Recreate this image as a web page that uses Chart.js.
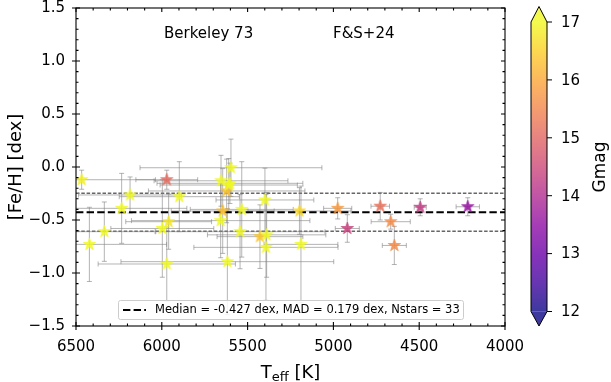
<!DOCTYPE html>
<html><head><meta charset="utf-8">
<script src="https://cdn.jsdelivr.net/npm/chart.js@4.4.1/dist/chart.umd.min.js"></script>
<style>html,body{margin:0;padding:0;background:#fff;}canvas{display:block;}</style>
</head><body>
<canvas id="c" width="611" height="382"></canvas>
<script>
// ---------- data ----------
const teff    = [6467, 5971, 6185, 6234, 6422, 6335, 5898, 5960, 5997, 5971, 5597, 5655, 5603, 5622, 5645, 5657, 5534, 5544, 5618, 5399, 5428, 5389, 5393, 5198, 5189, 4975, 4919, 4727, 4666, 4645, 4494, 4217, 5610];
const feh     = [-0.12, -0.12, -0.264, -0.39, -0.73, -0.61, -0.28, -0.516, -0.58, -0.915, -0.007, -0.13, -0.154, -0.226, -0.415, -0.506, -0.40, -0.61, -0.893, -0.311, -0.657, -0.64, -0.758, -0.415, -0.73, -0.39, -0.58, -0.37, -0.516, -0.74, -0.38, -0.375, -0.17];
const teffErr = [430, 180, 300, 380, 450, 300, 350, 250, 300, 400, 530, 390, 425, 456, 300, 520, 300, 495, 620, 285, 250, 345, 420, 300, 215, 82, 70, 54, 114, 70, 35, 68, 400];
const fehErr  = [0.09, 0.09, 0.17, 0.33, 0.35, 0.28, 0.33, 0.26, 0.46, 0.35, 0.27, 0.24, 0.19, 0.30, 0.40, 0.35, 0.45, 0.35, 0.50, 0.30, 0.30, 0.40, 0.50, 0.22, 0.55, 0.10, 0.13, 0.13, 0.07, 0.18, 0.08, 0.085, 0.25];
const gmag    = [16.9, 15.1, 17.2, 17.3, 17.1, 17.2, 17.3, 16.8, 17.2, 17.4, 17.3, 17.2, 17.1, 16.3, 16.3, 17.2, 17.0, 17.3, 17.4, 17.0, 16.4, 17.2, 17.3, 16.6, 17.3, 15.8, 14.4, 15.2, 15.6, 15.6, 14.3, 13.6, 17.2];
const xTicks = [6500, 6000, 5500, 5000, 4500, 4000];
const yTicks = [-1.5, -1.0, -0.5, 0.0, 0.5, 1.0, 1.5];
const cbarTicks = [12, 13, 14, 15, 16, 17];
const medianFeh = -0.427;
const madFeh = 0.179;
const nStars = 33;
const clusterName = 'Berkeley 73';
const sourceLabel = 'F&S+24';
const cbarLabel = 'Gmag';

// ---------- styling ----------
const FONT = 'DejaVu Sans';
const PLASMA = ['#0d0887','#41049d','#6a00a8','#8f0da4','#b12a90','#cc4778','#e16462','#f2844b','#fca636','#fcce25','#f0f921']
  .map(h => [parseInt(h.slice(1,3),16), parseInt(h.slice(3,5),16), parseInt(h.slice(5,7),16)]);
function plasma(t, a) {
  t = Math.max(0, Math.min(1, t));
  const n = PLASMA.length - 1, f = t * n, i = Math.min(n - 1, Math.floor(f)), u = f - i;
  const A = PLASMA[i], B = PLASMA[i + 1];
  const c = [0,1,2].map(k => Math.round(A[k] + (B[k] - A[k]) * u));
  return `rgba(${c[0]},${c[1]},${c[2]},${a})`;
}
const GMIN = cbarTicks[0], GMAX = cbarTicks[cbarTicks.length - 1];
function starImage(color, R) {
  const s = Math.ceil(2 * R + 2);
  const cv = document.createElement('canvas'); cv.width = s; cv.height = s;
  const g = cv.getContext('2d');
  g.translate(s / 2, s / 2);
  g.beginPath();
  const r2 = R * 0.381966;
  for (let k = 0; k < 10; k++) {
    const ang = -Math.PI / 2 + k * Math.PI / 5;
    const r = k % 2 === 0 ? R : r2;
    const px = r * Math.cos(ang), py = r * Math.sin(ang);
    k === 0 ? g.moveTo(px, py) : g.lineTo(px, py);
  }
  g.closePath();
  g.fillStyle = color; g.fill();
  g.lineWidth = 0.8; g.strokeStyle = color; g.stroke();
  return cv;
}
const starImgs = gmag.map(m => starImage(plasma((m - GMIN) / (GMAX - GMIN), 0.85), 6.5));

const fmtY = v => (v < 0 ? '\u2212' : '') + Math.abs(v).toFixed(1);

const overlay = {
  id: 'overlay',
  beforeDatasetsDraw(chart) {
    const { ctx, chartArea: a, scales: { x, y } } = chart;
    ctx.save();
    ctx.beginPath(); ctx.rect(a.left, a.top, a.right - a.left, a.bottom - a.top); ctx.clip();
    // MAD band lines
    ctx.strokeStyle = '#666'; ctx.lineWidth = 1.4; ctx.setLineDash([3.5, 1.8]);
    [medianFeh + madFeh, medianFeh - madFeh].forEach(v => {
      const py = y.getPixelForValue(v);
      ctx.beginPath(); ctx.moveTo(a.left, py); ctx.lineTo(a.right, py); ctx.stroke();
    });
    // error bars
    ctx.setLineDash([]);
    ctx.strokeStyle = 'rgba(130,130,130,0.6)'; ctx.lineWidth = 1;
    const cap = 2.5;
    for (let i = 0; i < teff.length; i++) {
      const cx = x.getPixelForValue(teff[i]), cy = y.getPixelForValue(feh[i]);
      const x1 = x.getPixelForValue(teff[i] - teffErr[i]), x2 = x.getPixelForValue(teff[i] + teffErr[i]);
      const y1 = y.getPixelForValue(feh[i] - fehErr[i]), y2 = y.getPixelForValue(feh[i] + fehErr[i]);
      ctx.beginPath();
      ctx.moveTo(x1, cy); ctx.lineTo(x2, cy);
      ctx.moveTo(x1, cy - cap); ctx.lineTo(x1, cy + cap);
      ctx.moveTo(x2, cy - cap); ctx.lineTo(x2, cy + cap);
      ctx.moveTo(cx, y1); ctx.lineTo(cx, y2);
      ctx.moveTo(cx - cap, y1); ctx.lineTo(cx + cap, y1);
      ctx.moveTo(cx - cap, y2); ctx.lineTo(cx + cap, y2);
      ctx.stroke();
    }
    // median line
    ctx.strokeStyle = '#000'; ctx.lineWidth = 2; ctx.setLineDash([7.4, 3.2]);
    const pm = y.getPixelForValue(medianFeh);
    ctx.beginPath(); ctx.moveTo(a.left, pm); ctx.lineTo(a.right, pm); ctx.stroke();
    ctx.restore();
  },
  afterDraw(chart) {
    const { ctx, chartArea: a, scales: { x, y } } = chart;
    ctx.save();
    // frame
    ctx.strokeStyle = '#000'; ctx.lineWidth = 1.1; ctx.setLineDash([]);
    ctx.strokeRect(a.left, a.top, a.right - a.left, a.bottom - a.top);
    // ticks
    ctx.beginPath();
    xTicks.forEach(v => {
      const px = x.getPixelForValue(v);
      ctx.moveTo(px, a.bottom - 4); ctx.lineTo(px, a.bottom + 4);
      ctx.moveTo(px, a.top); ctx.lineTo(px, a.top + 4);
    });
    for (let v = xTicks[xTicks.length - 1]; v <= xTicks[0]; v += 100) {
      if (v % 500 === 0) continue;
      const px = x.getPixelForValue(v);
      ctx.moveTo(px, a.bottom - 2.5); ctx.lineTo(px, a.bottom);
      ctx.moveTo(px, a.top); ctx.lineTo(px, a.top + 2.5);
    }
    yTicks.forEach(v => {
      const py = y.getPixelForValue(v);
      ctx.moveTo(a.left - 4, py); ctx.lineTo(a.left + 4, py);
      ctx.moveTo(a.right - 4, py); ctx.lineTo(a.right, py);
    });
    for (let k = -15; k <= 15; k++) {
      if (k % 5 === 0) continue;
      const py = y.getPixelForValue(k / 10);
      ctx.moveTo(a.left, py); ctx.lineTo(a.left + 2.5, py);
      ctx.moveTo(a.right - 2.5, py); ctx.lineTo(a.right, py);
    }
    ctx.stroke();

    // texts
    ctx.fillStyle = '#000';
    ctx.font = `15px "${FONT}"`; ctx.textBaseline = 'alphabetic'; ctx.textAlign = 'left';
    ctx.fillText(clusterName, 164, 38);
    ctx.fillText(sourceLabel, 333, 38);

    // axis titles
    ctx.font = `18px "${FONT}"`;
    const wT = ctx.measureText('T').width;
    ctx.font = `13px "${FONT}"`;
    const wS = ctx.measureText('eff').width;
    ctx.font = `18px "${FONT}"`;
    const wK = ctx.measureText(' [K]').width;
    let sx = 290.5 - (wT + wS + wK) / 2;
    ctx.fillText('T', sx, 377.5); sx += wT;
    ctx.font = `13px "${FONT}"`; ctx.fillText('eff', sx, 381); sx += wS;
    ctx.font = `18px "${FONT}"`; ctx.fillText(' [K]', sx, 377.5);

    ctx.save();
    ctx.translate(21, 167); ctx.rotate(-Math.PI / 2); ctx.textAlign = 'center';
    ctx.fillText('[Fe/H] [dex]', 0, 0);
    ctx.restore();

    // legend
    const lx = 118, ly = 300, lw = 345, lh = 19;
    ctx.fillStyle = 'rgba(255,255,255,0.85)'; ctx.strokeStyle = '#cccccc'; ctx.lineWidth = 1;
    ctx.beginPath();
    if (ctx.roundRect) ctx.roundRect(lx + 0.5, ly + 0.5, lw, lh, 2); else ctx.rect(lx + 0.5, ly + 0.5, lw, lh);
    ctx.fill(); ctx.stroke();
    ctx.strokeStyle = '#000'; ctx.lineWidth = 2; ctx.setLineDash([7.4, 3.2]);
    ctx.beginPath(); ctx.moveTo(123, ly + 10); ctx.lineTo(146, ly + 10); ctx.stroke();
    ctx.setLineDash([]);
    ctx.fillStyle = '#000'; ctx.font = `11.5px "${FONT}"`; ctx.textBaseline = 'middle'; ctx.textAlign = 'left';
    ctx.fillText(`Median = ${medianFeh.toFixed(3)} dex, MAD = ${madFeh.toFixed(3)} dex, Nstars = ${nStars}`, 155, ly + 10.5);

    // colorbar
    const cx0 = 531, cx1 = 547, cTop = 22, cBot = 311.5, tipT = 6.5, tipB = 326;
    const grad = ctx.createLinearGradient(0, cBot, 0, cTop);
    for (let k = 0; k <= 20; k++) grad.addColorStop(k / 20, plasma(k / 20, 0.8));
    ctx.fillStyle = grad; ctx.fillRect(cx0, cTop, cx1 - cx0, cBot - cTop);
    ctx.fillStyle = plasma(1, 0.8);
    ctx.beginPath(); ctx.moveTo(cx0, cTop); ctx.lineTo((cx0 + cx1) / 2, tipT); ctx.lineTo(cx1, cTop); ctx.closePath(); ctx.fill();
    ctx.fillStyle = plasma(0, 0.8);
    ctx.beginPath(); ctx.moveTo(cx0, cBot); ctx.lineTo((cx0 + cx1) / 2, tipB); ctx.lineTo(cx1, cBot); ctx.closePath(); ctx.fill();
    ctx.strokeStyle = '#000'; ctx.lineWidth = 1;
    ctx.beginPath();
    ctx.moveTo(cx0, cTop); ctx.lineTo((cx0 + cx1) / 2, tipT); ctx.lineTo(cx1, cTop);
    ctx.lineTo(cx1, cBot); ctx.lineTo((cx0 + cx1) / 2, tipB); ctx.lineTo(cx0, cBot); ctx.closePath();
    ctx.stroke();
    ctx.font = `15px "${FONT}"`; ctx.fillStyle = '#000'; ctx.textBaseline = 'middle'; ctx.textAlign = 'left';
    ctx.beginPath();
    cbarTicks.forEach(v => {
      const py = cBot - (v - GMIN) / (GMAX - GMIN) * (cBot - cTop);
      ctx.moveTo(cx1, py); ctx.lineTo(cx1 + 5, py);
      ctx.fillText(String(v), 561, py + 1);
    });
    ctx.stroke();
    ctx.save();
    ctx.translate(605, 167); ctx.rotate(-Math.PI / 2); ctx.textAlign = 'center'; ctx.textBaseline = 'alphabetic';
    ctx.font = `17px "${FONT}"`;
    ctx.fillText(cbarLabel, 0, 0);
    ctx.restore();
    ctx.restore();
  }
};

new Chart(document.getElementById('c'), {
  type: 'scatter',
  data: { datasets: [{
    data: teff.map((t, i) => ({ x: t, y: feh[i] })),
    pointStyle: starImgs, pointRadius: 6, pointHoverRadius: 6
  }] },
  options: {
    responsive: false, animation: false, events: [],
    layout: { padding: { left: 0, right: 106, top: 8, bottom: 0 } },
    plugins: { legend: { display: false }, tooltip: { enabled: false } },
    scales: {
      x: {
        type: 'linear', min: 4000, max: 6500, reverse: true,
        afterFit(s) { s.height = 56; s.paddingLeft = 0; s.paddingRight = 0; },
        afterBuildTicks(s) { s.ticks = xTicks.map(v => ({ value: v })); },
        grid: { display: false, drawTicks: false }, border: { display: false },
        ticks: { padding: 12, color: '#000', font: { family: FONT, size: 15 }, maxRotation: 0, autoSkip: false, callback: v => String(v) }
      },
      y: {
        type: 'linear', min: -1.5, max: 1.5,
        afterFit(s) { s.width = 76; s.paddingTop = 0; s.paddingBottom = 0; },
        afterBuildTicks(s) { s.ticks = yTicks.map(v => ({ value: v })); },
        grid: { display: false, drawTicks: false }, border: { display: false },
        ticks: { padding: 11, color: '#000', font: { family: FONT, size: 15 }, autoSkip: false, callback: v => fmtY(v) }
      }
    }
  },
  plugins: [overlay]
});
</script>
</body></html>
